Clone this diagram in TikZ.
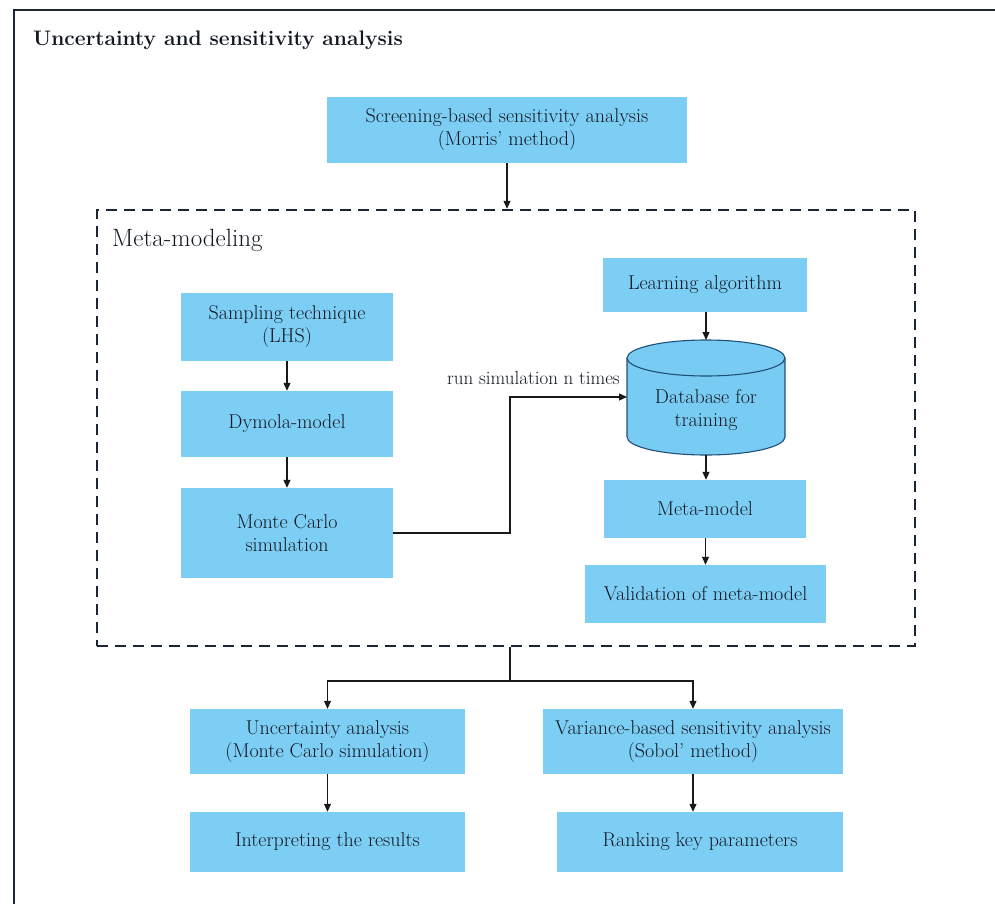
\documentclass[tikz,border=0pt]{standalone}
\usetikzlibrary{arrows.meta}
\definecolor{boxblue}{RGB}{125,206,244}
\definecolor{cylblue}{RGB}{120,204,243}
\definecolor{cyledge}{RGB}{30,80,120}
\definecolor{navy}{RGB}{27,37,52}
\definecolor{ink}{RGB}{18,24,34}
\begin{document}
\begin{tikzpicture}[x=1pt,y=-1pt,
  box/.style={fill=boxblue, align=center, text=ink, font=\fontsize{20}{23}\selectfont, inner sep=0pt},
  dbox/.style={draw=navy, dash pattern=on 11pt off 7pt, line width=2.4pt},
  arr/.style={-{Triangle[length=8pt,width=7pt]}, line width=1.1pt, draw=black!90},
  conn/.style={line width=1.1pt, draw=black!90}]
\useasboundingbox (0,0) rectangle (995,904);
\fill[white] (0,0) rectangle (995,904);
% outer frame
\draw[navy, line width=2.8pt] (14,904) -- (14,10) -- (995,10);
\node[anchor=west, font=\bfseries\fontsize{21}{25}\selectfont, text=ink, inner sep=0pt] (title) at (33,40) {Uncertainty and sensitivity analysis};

% screening
\node[box, minimum width=360pt, minimum height=66pt] (screen) at (507,130) {Screening-based sensitivity analysis\\(Morris’ method)};

% meta-modeling dashed box
\node[dbox, minimum width=818pt, minimum height=436pt] (meta) at (506,428) {};
\node[anchor=west, font=\fontsize{25}{28}\selectfont, text=ink, inner sep=0pt] (mtitle) at (112,240) {Meta-modeling};
\draw[arr] (screen.south) -- (screen.south |- meta.north);

% left column
\node[box, minimum width=212pt, minimum height=68pt] (samp) at (287,327) {Sampling technique\\(LHS)};
\node[box, minimum width=212pt, minimum height=66pt] (dym) at (287,424) {Dymola-model};
\node[box, minimum width=212pt, minimum height=90pt] (mc) at (287,533) {Monte Carlo\\simulation};
\draw[arr] (samp) -- (dym);
\draw[arr] (dym) -- (mc);

% right column
\node[box, minimum width=204pt, minimum height=54pt] (learn) at (705,285) {Learning algorithm};
\fill[cylblue] (627,358) -- (627,437) arc[start angle=180, end angle=0, x radius=79, y radius=18] -- (785,358) arc[start angle=0, end angle=-180, x radius=79, y radius=18] -- cycle;
\draw[cyledge, line width=1.1pt] (627,358) -- (627,437) arc[start angle=180, end angle=0, x radius=79, y radius=18] -- (785,358);
\draw[cyledge, line width=1.1pt] (706,358) ellipse[x radius=79, y radius=18];
\node[text=ink, align=center, font=\fontsize{20}{23}\selectfont, inner sep=0pt] (db) at (706,410) {Database for\\training};
\coordinate (dbtop) at (706,340);
\coordinate (dbbot) at (706,455);
\coordinate (dbl) at (627,397);
\node[box, minimum width=202pt, minimum height=58pt] (mm) at (705,509) {Meta-model};
\node[box, minimum width=241pt, minimum height=58pt] (val) at (705.5,594) {Validation of meta-model};
\draw[arr] (learn.south -| dbtop) -- (dbtop);
\draw[arr] (dbbot) -- (dbbot |- mm.north);
\draw[arr] (mm.south -| val.north) -- (val.north);

% run simulation connector
\coordinate (jog) at (510,397);
\draw[arr] (mc.east) -| (jog) -- (dbl);
\node[anchor=base east, text=ink, font=\fontsize{19}{22}\selectfont, inner sep=0pt] (lab) at (620,384) {run simulation n times};

% bottom part
\node[box, minimum width=275pt, minimum height=65pt] (unc) at (327.5,741.5) {Uncertainty analysis\\(Monte Carlo simulation)};
\node[box, minimum width=300pt, minimum height=65pt] (var) at (693,741.5) {Variance-based sensitivity analysis\\(Sobol’ method)};
\node[box, minimum width=275pt, minimum height=60pt] (interp) at (327.5,842) {Interpreting the results};
\node[box, minimum width=286pt, minimum height=60pt] (rank) at (700,842) {Ranking key parameters};
\coordinate (split) at (510,681);
\draw[conn] (meta.south -| split) -- (split);
\draw[arr] (split) -| (unc.north);
\draw[arr] (split) -| (var.north);
\draw[arr] (unc) -- (interp);
\draw[arr] (var.south) -- (var.south |- rank.north);
\end{tikzpicture}
\end{document}
